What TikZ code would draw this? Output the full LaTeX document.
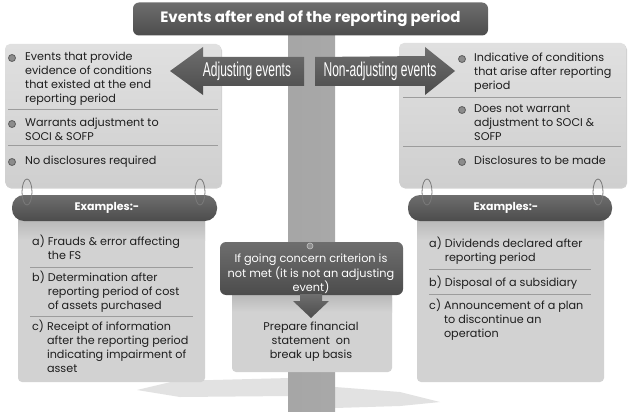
\documentclass[tikz,border=0pt]{standalone}
\usepackage{fontspec}
\setmainfont{Poppins}
\newfontfamily\condfont[FakeStretch=0.6]{Liberation Sans}
\usetikzlibrary{shadows}
\definecolor{txt}{HTML}{1E1E1E}
\definecolor{darkA}{HTML}{6E6E6E}
\definecolor{darkB}{HTML}{4C4C4C}
\definecolor{lightA}{HTML}{E0E0E0}
\definecolor{lightB}{HTML}{CFCFCF}
\definecolor{panel}{HTML}{D2D2D2}
\definecolor{sepc}{HTML}{9C9C9C}
\definecolor{ringc}{HTML}{7A7A7A}
\definecolor{shadowc}{HTML}{E2E2E2}
\definecolor{bulletc}{HTML}{8C8C8C}
\definecolor{bulletd}{HTML}{5E5E5E}
\begin{document}
\begin{tikzpicture}[x=1pt,y=-1pt,
  bodytext/.style={font=\fontsize{11.2}{14}\selectfont, text=txt, align=left, inner sep=0pt, anchor=north west},
  darkbox/.style={top color=darkA, bottom color=darkB, draw=none, rounded corners=6pt},
  infobox/.style={top color=lightA, bottom color=lightB, draw=none, rounded corners=5pt,
     drop shadow={shadow xshift=1pt, shadow yshift=-1.5pt, fill=black, opacity=0.18}},
  panelbox/.style={fill=panel, draw=none, rounded corners=4pt},
  sepline/.style={draw=sepc, line width=0.6pt},
  ring/.style={draw=ringc, line width=0.8pt},
  bullet/.style={circle, inner sep=0pt, minimum size=7pt, fill=bulletc, draw=bulletd, line width=0.8pt},
  signarrow/.style={top color=darkA, bottom color=darkB, draw=none},
  signtext/.style={font=\condfont\fontsize{20}{22}\selectfont, text=white, inner sep=0pt},
  headtext/.style={font=\bfseries\fontsize{11}{13}\selectfont, text=white, inner sep=0pt}
]
\useasboundingbox (0,0) rectangle (632,412);
\fill[white] (0,0) rectangle (632,412);

% ground shadows
\fill[shadowc] (137,390) -- (175,381) -- (290,378) -- (290,396) -- (180,397) -- cycle;
\fill[shadowc] (335,387) -- (400,392) -- (440,402) -- (400,406) -- (335,408) -- cycle;

% pole
\node[minimum width=47pt, minimum height=376pt, inner sep=0pt, draw=none,
      left color=gray!70, middle color=gray!25, right color=gray!68] (pole) at (311.5,224) {};

% title
\node[darkbox, minimum width=355pt, minimum height=33pt, inner sep=0pt,
      font=\bfseries\fontsize{15}{17}\selectfont, text=white] (title) at (310.5,19) {Events after end of the reporting period};

% top boxes
\node[infobox, minimum width=216pt, minimum height=143pt, inner sep=0pt] (adjbox) at (113,115.5) {};
\node[infobox, minimum width=227pt, minimum height=144pt, inner sep=0pt] (nonbox) at (512.5,115) {};

% separators top boxes
\draw[sepline] (8,109) -- (218,109);
\draw[sepline] (8,145) -- (218,145);
\draw[sepline] (403,97) -- (621,97);
\draw[sepline] (403,146) -- (621,146);

% arrows
\path[signarrow] (170,71) -- (203,47) -- (203,57) -- (304,57) -- (304,86) -- (203,86) -- (203,95) -- cycle;
\node[signtext] (adjlabel) at (247,71) {Adjusting events};
\path[signarrow] (315,57) -- (425,56) -- (425,47) -- (455,71) -- (425,95) -- (425,86) -- (315,86) -- cycle;
\node[signtext] (nonlabel) at (380,71) {Non-adjusting events};

% bullets + text left
\node[bullet] (b1) at (12,58) {};
\node[bodytext] (t1) at (25,52) {Events that provide\\evidence of conditions\\that existed at the end\\reporting period};
\node[bullet] (b2) at (12,124) {};
\node[bodytext] (t2) at (25,118) {Warrants adjustment to\\SOCI \& SOFP};
\node[bullet] (b3) at (12,162) {};
\node[bodytext] (t3) at (25,156) {No disclosures required};

% bullets + text right
\node[bullet] (b4) at (462,59) {};
\node[bodytext] (t4) at (474,53) {Indicative of conditions\\that arise after reporting\\period};
\node[bullet] (b5) at (462,110) {};
\node[bodytext] (t5) at (474,104) {Does not warrant\\adjustment to SOCI \&\\SOFP};
\node[bullet] (b6) at (462,162) {};
\node[bodytext] (t6) at (474,156) {Disclosures to be made};

% example panels
\node[panelbox, minimum width=187pt, minimum height=166pt, inner sep=0pt] (adjpanel) at (111.5,299) {};
\node[panelbox, minimum width=187pt, minimum height=166pt, inner sep=0pt] (nonpanel) at (510.5,299) {};
\shade[top color=gray!55, bottom color=panel] (18,220) rectangle (205,240);
\shade[top color=gray!55, bottom color=panel] (417,220) rectangle (604,240);

% example bars
\node[darkbox, rounded corners=12pt, minimum width=205pt, minimum height=26pt, inner sep=0pt] (adjex) at (114.5,208) {};
\node[headtext] at (107,208) {Examples:-};
\node[darkbox, rounded corners=12pt, minimum width=204pt, minimum height=26pt, inner sep=0pt] (nonex) at (510,208) {};
\node[headtext] at (506,208) {Examples:-};

% rings
\draw[ring] (27,192) ellipse (5pt and 13pt);
\draw[ring] (200,192) ellipse (5pt and 13pt);
\draw[ring] (427,192) ellipse (5pt and 13pt);
\draw[ring] (598,192) ellipse (5pt and 13pt);

% left examples text
\draw[sepline] (30,267) -- (193,267);
\draw[sepline] (30,316) -- (193,316);
\node[bodytext] (ea) at (32,235) {\begin{tabular}{@{}l@{\ }l@{}}a) & Frauds \& error affecting\\ & the FS\end{tabular}};
\node[bodytext] (eb) at (32,271) {\begin{tabular}{@{}l@{\ }l@{}}b) & Determination after\\ & reporting period of cost\\ & of assets purchased\end{tabular}};
\node[bodytext] (ec) at (32,320) {\begin{tabular}{@{}l@{\ }l@{}}c) & Receipt of information\\ & after the reporting period\\ & indicating impairment of\\ & asset\end{tabular}};

% right examples text
\draw[sepline] (429,269) -- (591,269);
\draw[sepline] (429,294) -- (591,294);
\node[bodytext] (na) at (429,237) {\begin{tabular}{@{}l@{\ }l@{}}a) & Dividends declared after\\ & reporting period\end{tabular}};
\node[bodytext] (nb) at (429,276) {\begin{tabular}{@{}l@{\ }l@{}}b) & Disposal of a subsidiary\end{tabular}};
\node[bodytext] (nc) at (429,299) {\begin{tabular}{@{}l@{\ }l@{}}c) & Announcement of a plan\\ & to discontinue an\\ & operation\end{tabular}};

% center going concern
\node[panelbox, minimum width=160pt, minimum height=78pt, inner sep=0pt] (breakbox) at (312,333) {};
\shade[top color=gray!55, bottom color=panel] (232,295) rectangle (392,312);
\node[darkbox, minimum width=183pt, minimum height=53pt, inner sep=0pt] (gcbox) at (311.5,268.5) {};
\node[circle, inner sep=0pt, minimum size=6pt, fill=bulletc, draw=gray!45, line width=0.6pt] (pin) at (310,246) {};
\node[font=\fontsize{11.3}{11.8}\selectfont, text=white, align=center, inner sep=0pt] (gctext) at (311,274) {If going concern criterion is\\not met (it is not an adjusting\\event)};
\path[signarrow] (300,294) -- (322,294) -- (322,301) -- (329,301) -- (311,318) -- (293,301) -- (300,301) -- cycle;
\node[font=\fontsize{11.2}{14}\selectfont, text=txt, align=center, inner sep=0pt] (bktext) at (311,342) {Prepare financial\\statement\ \ on\\break up basis};
\end{tikzpicture}
\end{document}
